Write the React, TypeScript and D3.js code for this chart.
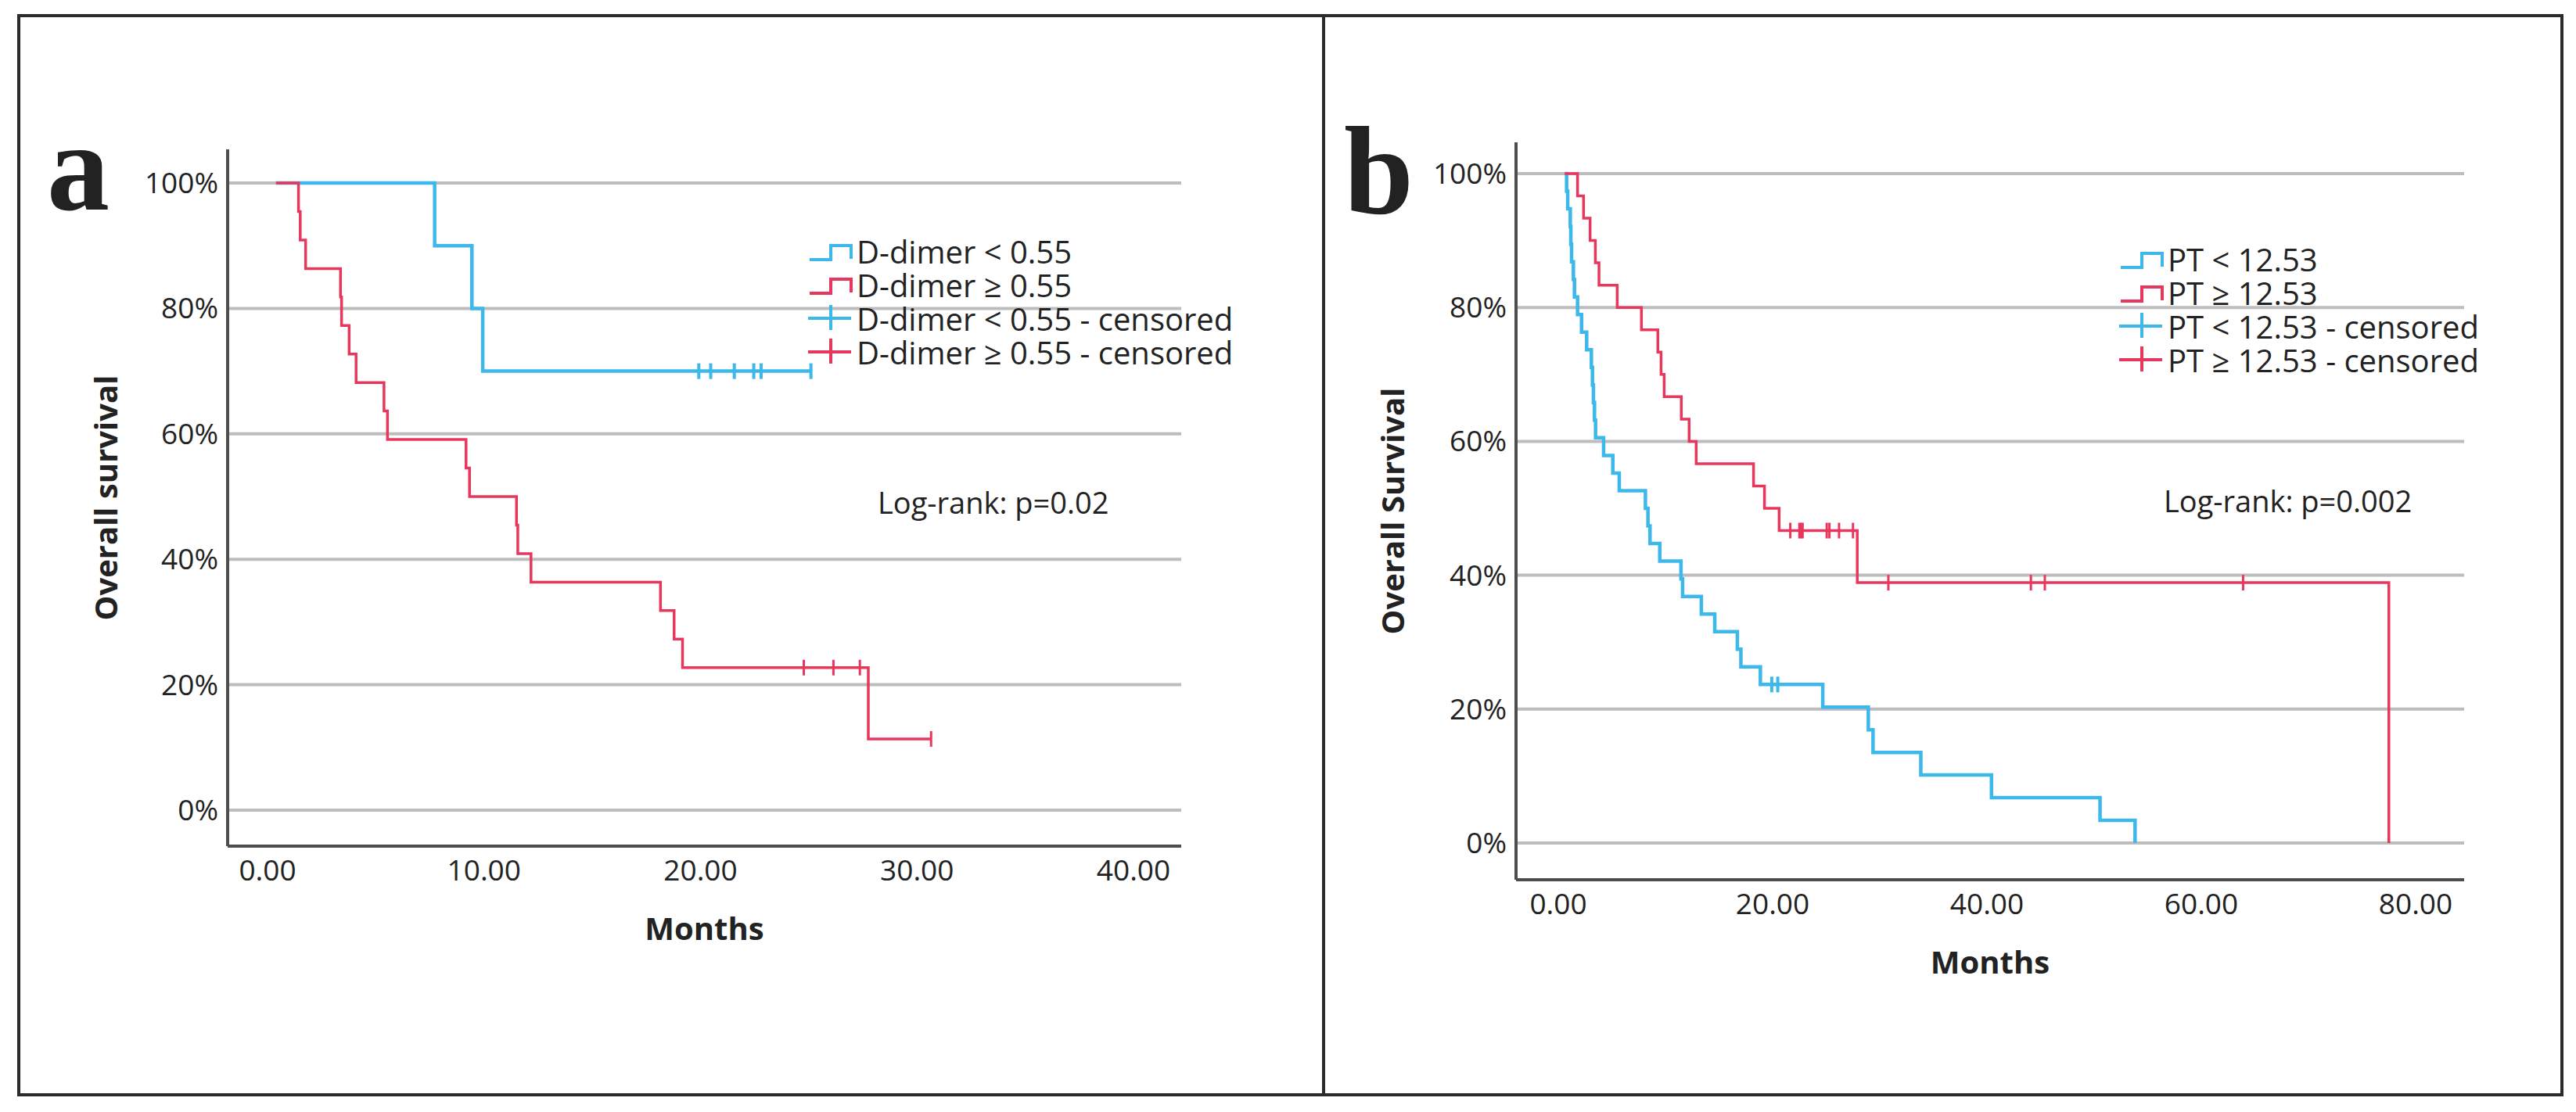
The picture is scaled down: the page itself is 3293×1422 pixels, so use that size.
import React from 'react';
import * as d3 from 'd3';

// shared axis values
const survTicks = [0, 0.2, 0.4, 0.6, 0.8, 1];
const survTickLabels = ['0%', '20%', '40%', '60%', '80%', '100%'];

// panel a: D-dimer
const aMonthTicks = [0, 10, 20, 30, 40];
const aLowLabel = 'D-dimer < 0.55';
const aHighLabel = 'D-dimer ≥ 0.55';
const aLowStart = 0.39;
const aLowTimes = [7.72, 9.44, 9.94];
const aLowSurv = [0.9, 0.8, 0.7];
const aLowCensored = [19.92, 20.47, 21.56, 22.46, 22.8, 25.1];
const aLowEnd = 25.1;
const aHighStart = 0.39;
const aHighTimes = [1.43, 1.51, 1.76, 3.37, 3.42, 3.77, 4.09, 5.38, 5.54, 9.17, 9.33, 11.5, 11.56, 12.17, 18.15, 18.78, 19.17, 27.75];
const aHighSurv = [0.9545, 0.9091, 0.8636, 0.8182, 0.7727, 0.7273, 0.6818, 0.6364, 0.5909, 0.5455, 0.5, 0.4545, 0.4091, 0.3636, 0.3182, 0.2727, 0.2273, 0.1136];
const aHighCensored = [24.77, 26.14, 27.36, 30.65];
const aHighEnd = 30.65;

// panel b: PT
const bMonthTicks = [0, 20, 40, 60, 80];
const bLowLabel = 'PT < 12.53';
const bHighLabel = 'PT ≥ 12.53';
const bLowStart = 0.6;
const bLowTimes = [0.78, 0.88, 1.12, 1.17, 1.24, 1.41, 1.51, 1.8, 2.17, 2.65, 3.09, 3.19, 3.28, 3.38, 3.48, 4.23, 5.09, 5.69, 8.13, 8.37, 8.56, 9.47, 11.45, 11.6, 13.35, 14.6, 16.71, 17.04, 18.86, 24.68, 28.93, 29.37, 33.83, 40.42, 50.55, 53.82];
const bLowSurv = [0.9737, 0.9474, 0.9211, 0.8947, 0.8684, 0.8421, 0.8158, 0.7895, 0.7632, 0.7368, 0.7105, 0.6842, 0.6579, 0.6316, 0.6053, 0.5789, 0.5526, 0.5263, 0.5, 0.4737, 0.4474, 0.4211, 0.3947, 0.3684, 0.3421, 0.3158, 0.2895, 0.2632, 0.2368, 0.203, 0.1692, 0.1353, 0.1015, 0.0677, 0.0338, 0];
const bLowCensored = [19.92, 20.48];
const bLowEnd = 53.82;
const bHighStart = 0.6;
const bHighTimes = [1.8, 2.36, 2.97, 3.46, 3.8, 5.5, 7.76, 9.29, 9.59, 9.88, 11.48, 12.21, 12.87, 18.22, 19.24, 20.61, 27.9, 77.5];
const bHighSurv = [0.9667, 0.9333, 0.9, 0.8667, 0.8333, 0.8, 0.7667, 0.7333, 0.7, 0.6667, 0.6333, 0.6, 0.5667, 0.5333, 0.5, 0.4667, 0.3889, 0];
const bHighCensored = [21.65, 22.5, 22.65, 22.8, 25.05, 25.3, 26.2, 27.5, 30.8, 44.1, 45.4, 63.9];
const bHighEnd = 77.5;

const BLUE = '#3cb8ea';
const RED = '#e8375c';
const FONT = '"Open Sans", "Noto Sans", sans-serif';

interface Series {
  start: number;
  times: number[];
  surv: number[];
  censored: number[];
  end: number;
  color: string;
  width: number;
}

interface PanelProps {
  letter: string;
  yLabel: string;
  logRank: string;
  labels: [string, string];
  ticks: number[];
  series: [Series, Series];
  x0: number; x1: number; yTop: number; yBot: number;
  axisX: number; axisTop: number; axisY: number; axisRight: number;
  letterX: number; letterY: number; yLabelX: number;
  legendX: number; legendBase: number; logX: number; logY: number;
}

// survival level just after time t (for placing censor marks)
function survAt(s: Series, t: number) {
  const i = d3.bisectRight(s.times, t);
  return i === 0 ? 1 : s.surv[i - 1];
}

function Panel(p: PanelProps) {
  const x = d3.scaleLinear().domain([0, p.ticks[p.ticks.length - 1]]).range([p.x0, p.x1]);
  const y = d3.scaleLinear().domain([0, 1]).range([p.yBot, p.yTop]);
  const line = d3.line<[number, number]>()
    .x(d => x(d[0]))
    .y(d => y(d[1]))
    .curve(d3.curveStepAfter);
  const fmt = d3.format('.2f');

  const curves = p.series.map((s, k) => {
    const pts: [number, number][] = [[s.start, 1]];
    s.times.forEach((t, i) => pts.push([t, s.surv[i]]));
    pts.push([s.end, s.surv[s.surv.length - 1]]);
    return (
      <g key={k}>
        <path d={line(pts) || ''} fill="none" stroke={s.color} strokeWidth={s.width} />
        {s.censored.map((c, i) => (
          <line key={i} x1={x(c)} x2={x(c)} y1={y(survAt(s, c)) - 10} y2={y(survAt(s, c)) + 10}
            stroke={s.color} strokeWidth={s.width - 0.5} />
        ))}
      </g>
    );
  });

  const rowGap = 43;
  const lx = p.legendX;
  const legendRows = [
    { text: p.labels[0], color: p.series[0].color, kind: 'step' },
    { text: p.labels[1], color: p.series[1].color, kind: 'step' },
    { text: p.labels[0] + ' - censored', color: p.series[0].color, kind: 'cens' },
    { text: p.labels[1] + ' - censored', color: p.series[1].color, kind: 'cens' },
  ];

  const yMid = (p.axisTop + p.axisY) / 2;

  return (
    <g>
      {survTicks.map((t, i) => (
        <g key={i}>
          <line x1={p.axisX} x2={p.axisRight} y1={y(t)} y2={y(t)} stroke="#bdbdbd" strokeWidth={4} />
          <text x={p.axisX - 12} y={y(t)} dy="0.35em" textAnchor="end" fontSize={37} fill="#222">
            {survTickLabels[i]}
          </text>
        </g>
      ))}
      <line x1={p.axisX} x2={p.axisX} y1={p.axisTop} y2={p.axisY} stroke="#4d4d4d" strokeWidth={4} />
      <line x1={p.axisX} x2={p.axisRight} y1={p.axisY} y2={p.axisY} stroke="#4d4d4d" strokeWidth={4} />
      {p.ticks.map((t, i) => (
        <text key={i} x={x(t)} y={p.axisY + 44} textAnchor="middle" fontSize={37} fill="#222">
          {fmt(t)}
        </text>
      ))}
      <text x={(p.axisX + p.axisRight) / 2} y={p.axisY + 120} textAnchor="middle" fontSize={40}
        fontWeight="bold" fill="#222">Months</text>
      <text transform={`translate(${p.yLabelX},${yMid}) rotate(-90)`} textAnchor="middle" fontSize={40}
        fontWeight="bold" fill="#222">{p.yLabel}</text>
      {curves}
      {legendRows.map((r, i) => {
        const b = p.legendBase + i * rowGap;
        return (
          <g key={i}>
            {r.kind === 'step' ? (
              <path d={`M${lx},${b - 5} H${lx + 27} V${b - 23} H${lx + 53} V${b - 6}`} fill="none"
                stroke={r.color} strokeWidth={4} />
            ) : (
              <g stroke={r.color} strokeWidth={4}>
                <line x1={lx - 2} x2={lx + 53} y1={b - 16} y2={b - 16} />
                <line x1={lx + 27} x2={lx + 27} y1={b - 33} y2={b - 1} />
              </g>
            )}
            <text x={lx + 60} y={b} fontSize={40} fill="#222">{r.text}</text>
          </g>
        );
      })}
      <text x={p.logX} y={p.logY} fontSize={38} fill="#222">{p.logRank}</text>
      <text x={p.letterX} y={p.letterY} fontSize={160} fontWeight="bold" fill="#222"
        fontFamily='"Liberation Serif", "DejaVu Serif", serif'>{p.letter}</text>
    </g>
  );
}

export default function App() {
  const W = 3293;
  const H = 1422;
  return (
    <svg width={W} height={H} style={{ position: 'absolute', left: 0, top: 0, background: '#fff' }}
      fontFamily={FONT}>
      <rect x={0} y={0} width={W} height={H} fill="#fff" />
      <rect x={24} y={20} width={3251} height={1380} fill="none" stroke="#2b2b2b" strokeWidth={4} />
      <line x1={1692} x2={1692} y1={20} y2={1400} stroke="#2b2b2b" strokeWidth={4} />
      <Panel
        letter="a" yLabel="Overall survival" logRank="Log-rank: p=0.02"
        labels={[aLowLabel, aHighLabel]} ticks={aMonthTicks}
        series={[
          { start: aLowStart, times: aLowTimes, surv: aLowSurv, censored: aLowCensored, end: aLowEnd, color: BLUE, width: 4.5 },
          { start: aHighStart, times: aHighTimes, surv: aHighSurv, censored: aHighCensored, end: aHighEnd, color: RED, width: 3.5 },
        ]}
        x0={342} x1={1449} yTop={234} yBot={1036}
        axisX={291} axisTop={191} axisY={1082} axisRight={1510}
        letterX={60} letterY={268} yLabelX={150}
        legendX={1035} legendBase={337} logX={1122} logY={657}
      />
      <Panel
        letter="b" yLabel="Overall Survival" logRank="Log-rank: p=0.002"
        labels={[bLowLabel, bHighLabel]} ticks={bMonthTicks}
        series={[
          { start: bLowStart, times: bLowTimes, surv: bLowSurv, censored: bLowCensored, end: bLowEnd, color: BLUE, width: 4.5 },
          { start: bHighStart, times: bHighTimes, surv: bHighSurv, censored: bHighCensored, end: bHighEnd, color: RED, width: 3.5 },
        ]}
        x0={1992} x1={3088} yTop={222} yBot={1078}
        axisX={1938} axisTop={182} axisY={1125} axisRight={3150}
        letterX={1718} letterY={273} yLabelX={1795}
        legendX={2711} legendBase={347} logX={2766} logY={655}
      />
    </svg>
  );
}
